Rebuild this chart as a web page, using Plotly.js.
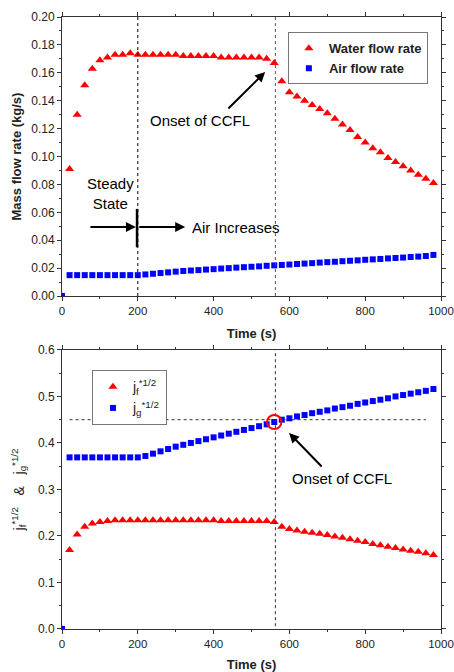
<!DOCTYPE html>
<html>
<head>
<meta charset="utf-8">
<script src="https://cdn.plot.ly/plotly-3.0.1.min.js"></script>
<style>html,body{margin:0;padding:0;background:#fff;}#chart{width:454px;height:672px;}</style>
</head>
<body>
<div id="chart"></div>
<script>
// Time (s)
var time = [0,20,40,60,80,100,120,140,160,180,200,220,240,260,280,300,320,340,360,380,400,420,440,460,480,500,520,540,560,580,600,620,640,660,680,700,720,740,760,780,800,820,840,860,880,900,920,940,960,980];

// Top panel: mass flow rates (kg/s)
var waterFlow = [0,0.091,0.130,0.151,0.163,0.169,0.171,0.173,0.173,0.174,0.173,0.173,0.173,0.173,0.173,0.173,0.172,0.172,0.172,0.172,0.172,0.171,0.171,0.171,0.171,0.171,0.171,0.170,0.167,0.154,0.146,0.143,0.140,0.137,0.134,0.131,0.127,0.123,0.119,0.114,0.110,0.106,0.103,0.099,0.096,0.093,0.090,0.087,0.084,0.081];
var airFlow = [0,0.015,0.015,0.015,0.015,0.015,0.015,0.015,0.015,0.015,0.015,0.0155,0.016,0.0165,0.017,0.0175,0.018,0.0183,0.0186,0.019,0.0193,0.0197,0.020,0.0204,0.0207,0.021,0.0213,0.0217,0.022,0.0223,0.0226,0.023,0.0233,0.0236,0.024,0.0243,0.0246,0.025,0.0253,0.0256,0.026,0.0263,0.0266,0.027,0.0273,0.0276,0.028,0.0283,0.0287,0.0295];

// Bottom panel: dimensionless superficial velocities
var jf = [0,0.170,0.203,0.220,0.227,0.230,0.232,0.234,0.234,0.234,0.234,0.234,0.234,0.234,0.234,0.234,0.234,0.234,0.234,0.234,0.234,0.232,0.232,0.232,0.232,0.232,0.232,0.232,0.230,0.220,0.215,0.212,0.209,0.207,0.205,0.202,0.199,0.196,0.193,0.190,0.187,0.183,0.180,0.177,0.174,0.171,0.168,0.166,0.163,0.159];
var jg = [0,0.369,0.369,0.369,0.369,0.369,0.369,0.369,0.369,0.369,0.369,0.372,0.377,0.382,0.387,0.392,0.396,0.400,0.404,0.408,0.412,0.416,0.420,0.424,0.428,0.432,0.436,0.440,0.445,0.450,0.453,0.457,0.460,0.464,0.467,0.470,0.474,0.477,0.480,0.484,0.487,0.490,0.493,0.496,0.500,0.503,0.506,0.509,0.512,0.516];

var xTicks = [0,200,400,600,800,1000];
var topTicks = [0,0.02,0.04,0.06,0.08,0.10,0.12,0.14,0.16,0.18,0.20];
var botTicks = [0,0.1,0.2,0.3,0.4,0.5,0.6];

var RED = '#ff0000', BLUE = '#0000ff';
var F = 'Liberation Sans, Arial, sans-serif';

var traces = [
  {x: time, y: waterFlow, xaxis: 'x', yaxis: 'y', mode: 'markers', name: 'Water flow rate',
   marker: {symbol: 'triangle-up', size: 8, color: RED}, legend: 'legend'},
  {x: time, y: airFlow, xaxis: 'x', yaxis: 'y', mode: 'markers', name: 'Air flow rate',
   marker: {symbol: 'square', size: 6, color: BLUE}, legend: 'legend'},
  {x: time, y: jf, xaxis: 'x2', yaxis: 'y2', mode: 'markers', name: 'j<sub>f</sub><sup>*1/2</sup>',
   marker: {symbol: 'triangle-up', size: 8, color: RED}, legend: 'legend2'},
  {x: time, y: jg, xaxis: 'x2', yaxis: 'y2', mode: 'markers', name: 'j<sub>g</sub><sup>*1/2</sup>',
   marker: {symbol: 'square', size: 6, color: BLUE}, legend: 'legend2'}
];

function xax(anchor) {
  return {anchor: anchor, range: [0, 1000], tickvals: xTicks, ticklabeloverflow: 'allow',
    ticks: 'outside', ticklen: 4, tickcolor: '#333', showline: true, linecolor: '#333', linewidth: 1,
    mirror: 'ticks', showgrid: false, zeroline: false,
    minor: {dtick: 100, tick0: 0, ticks: 'outside', ticklen: 2, tickcolor: '#333'},
    tickfont: {family: F, size: 11.5, color: '#222'},
    title: {text: '<b>Time (s)</b>', font: {family: F, size: 13, color: '#222'}, standoff: 13}};
}

var layout = {
  width: 454, height: 672,
  margin: {l: 62, r: 13, t: 17, b: 43},
  paper_bgcolor: '#fff', plot_bgcolor: '#fff',
  font: {family: F, color: '#222'},
  xaxis: xax('y'),
  xaxis2: xax('y2'),
  yaxis: {domain: [0.544, 1], range: [0, 0.2], tickvals: topTicks, tickformat: '.2f',
    ticks: 'outside', ticklen: 4, tickcolor: '#333', showline: true, linecolor: '#333', mirror: 'ticks',
    showgrid: false, zeroline: false,
    minor: {dtick: 0.01, tick0: 0, ticks: 'outside', ticklen: 2, tickcolor: '#333'},
    tickfont: {family: F, size: 12, color: '#222'},
    title: {text: '<b>Mass flow rate (kg/s)</b>', font: {family: F, size: 13, color: '#222'}, standoff: 6}},
  yaxis2: {domain: [0, 0.456], range: [0, 0.6], tickvals: botTicks, tickformat: '.1f',
    ticks: 'outside', ticklen: 4, tickcolor: '#333', showline: true, linecolor: '#333', mirror: 'ticks',
    showgrid: false, zeroline: false,
    minor: {dtick: 0.05, tick0: 0, ticks: 'outside', ticklen: 2, tickcolor: '#333'},
    tickfont: {family: F, size: 12, color: '#222'},
    title: {text: 'j<sub>f</sub><sup>*1/2</sup>   &amp;   j<sub>g</sub><sup>*1/2</sup>', font: {family: F, size: 14, color: '#222'}, standoff: 10}},
  legend: {x: 0.596, y: 0.975, xanchor: 'left', yanchor: 'top', bgcolor: '#fff',
    bordercolor: '#777', borderwidth: 1, font: {family: F, size: 13, color: '#222', weight: 'bold'},
    tracegroupgap: 0, itemwidth: 30},
  legend2: {x: 0.079, y: 0.423, xanchor: 'left', yanchor: 'top', bgcolor: '#fff',
    bordercolor: '#777', borderwidth: 1, font: {family: F, size: 14, color: '#222'},
    tracegroupgap: 0, itemwidth: 30},
  shapes: [
    {type: 'line', xref: 'x', yref: 'y', x0: 200, x1: 200, y0: 0, y1: 0.2, line: {color: '#000', width: 1, dash: 'dot'}},
    {type: 'line', xref: 'x', yref: 'y', x0: 563, x1: 563, y0: 0, y1: 0.2, line: {color: '#555', width: 1, dash: 'dot'}},
    {type: 'line', xref: 'x', yref: 'y', x0: 198, x1: 198, y0: 0.035, y1: 0.0625, line: {color: '#000', width: 2.5}},
    {type: 'line', xref: 'x2', yref: 'y2', x0: 563, x1: 563, y0: 0.006, y1: 0.6, line: {color: '#333', width: 1, dash: 'dot'}},
    {type: 'line', xref: 'x2', yref: 'y2', x0: 20, x1: 960, y0: 0.45, y1: 0.45, line: {color: '#333', width: 1, dash: 'dot'}},
    {type: 'circle', xref: 'x2', yref: 'y2', x0: 541, x1: 579, y0: 0.430, y1: 0.460, line: {color: '#ff0000', width: 2}}
  ],
  annotations: [
    {xref: 'x', yref: 'y', x: 127, y: 0.0735, text: 'Steady<br>State', showarrow: false,
     font: {family: F, size: 15, color: '#000'}, align: 'center'},
    {xref: 'x', yref: 'y', x: 195, y: 0.0495, ax: 71, ay: 0.0495, axref: 'x', ayref: 'y', text: '',
     showarrow: true, arrowhead: 2, arrowsize: 1, arrowwidth: 2, arrowcolor: '#000'},
    {xref: 'x', yref: 'y', x: 325, y: 0.0495, ax: 200, ay: 0.0495, axref: 'x', ayref: 'y', text: '',
     showarrow: true, arrowhead: 2, arrowsize: 1, arrowwidth: 2, arrowcolor: '#000'},
    {xref: 'x', yref: 'y', x: 338, y: 0.0495, text: 'Air Increases', showarrow: false, xanchor: 'left',
     font: {family: F, size: 15, color: '#000'}},
    {xref: 'x', yref: 'y', x: 364, y: 0.126, text: 'Onset of CCFL', showarrow: false,
     font: {family: F, size: 15, color: '#000'}},
    {xref: 'x', yref: 'y', x: 536, y: 0.1606, ax: 435, ay: 0.1333, axref: 'x', ayref: 'y', text: '',
     showarrow: true, arrowhead: 2, arrowsize: 1, arrowwidth: 2, arrowcolor: '#000'},
    {xref: 'x2', yref: 'y2', x: 738, y: 0.3226, text: 'Onset of CCFL', showarrow: false,
     font: {family: F, size: 15, color: '#000'}},
    {xref: 'x2', yref: 'y2', x: 599, y: 0.4215, ax: 689, ay: 0.346, axref: 'x2', ayref: 'y2', text: '',
     showarrow: true, arrowhead: 2, arrowsize: 1, arrowwidth: 2, arrowcolor: '#000'}
  ]
};

Plotly.newPlot('chart', traces, layout, {staticPlot: true, displayModeBar: false});
</script>
</body>
</html>
